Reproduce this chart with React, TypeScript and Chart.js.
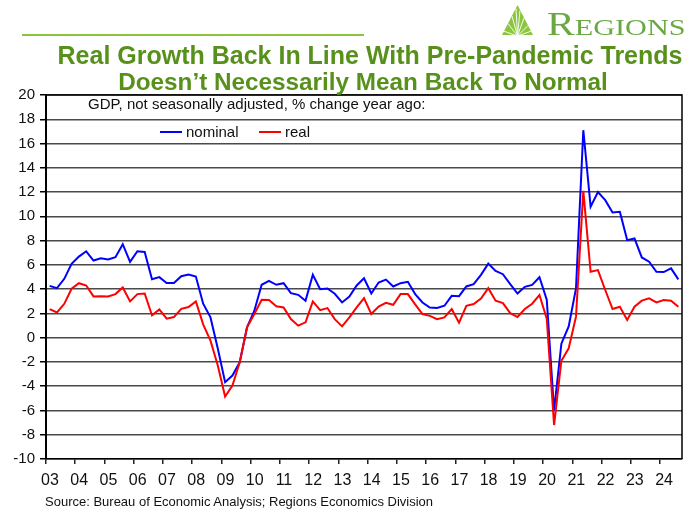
import React, { useEffect, useRef } from "react";
import { Chart, registerables } from "chart.js";

Chart.register(...registerables);

// ---- Data ----
const quarters: string[] = [];
for (let y = 2003; y <= 2024; y++) {
  for (let q = 1; q <= 4; q++) {
    if (y === 2024 && q === 4) break;
    quarters.push(`${y}Q${q}`);
  }
}

const nominal = [
  4.27, 4.08, 4.85, 6.08,
  6.68, 7.12, 6.36, 6.55,
  6.44, 6.63, 7.7, 6.25,
  7.12, 7.07, 4.82, 4.99,
  4.5, 4.5, 5.07, 5.2,
  5.04, 2.8, 1.67, -0.9,
  -3.67, -3.12, -2.03, 0.85,
  2.22, 4.36, 4.68, 4.36,
  4.49, 3.67, 3.53, 3.04,
  5.18, 4.0, 4.05, 3.62,
  2.9, 3.38, 4.3, 4.9,
  3.64, 4.55, 4.79, 4.22,
  4.49, 4.6, 3.59, 2.9,
  2.49, 2.44, 2.63, 3.45,
  3.42, 4.22, 4.41, 5.18,
  6.1, 5.5, 5.23, 4.41,
  3.64, 4.19, 4.35, 4.98,
  3.13, -6.0, -0.5, 0.92,
  4.06, 17.1, 10.8, 12.0,
  11.33, 10.32, 10.37, 8.04,
  8.18, 6.61, 6.26, 5.43,
  5.41, 5.71, 4.8,
];

const real = [
  2.36, 2.08, 2.79, 4.03,
  4.49, 4.3, 3.4, 3.42,
  3.4, 3.59, 4.14, 2.99,
  3.59, 3.64, 1.84, 2.33,
  1.56, 1.7, 2.38, 2.52,
  2.99, 1.1, -0.25, -2.3,
  -4.85, -3.95, -2.03, 0.85,
  1.95, 3.12, 3.1, 2.58,
  2.49, 1.53, 0.99, 1.26,
  2.99, 2.27, 2.44, 1.53,
  0.93, 1.67, 2.49, 3.26,
  1.95, 2.57, 2.87, 2.71,
  3.59, 3.59, 2.74, 1.95,
  1.8, 1.53, 1.67, 2.36,
  1.23, 2.63, 2.77, 3.22,
  4.08, 3.04, 2.85, 2.02,
  1.7, 2.36, 2.8, 3.51,
  1.56, -7.2, -1.9, -0.88,
  1.73, 12.1, 5.43, 5.57,
  3.93, 2.36, 2.55, 1.46,
  2.55, 3.05, 3.24, 2.91,
  3.1, 3.05, 2.55,
];

const yearTicks: number[] = [];
for (let y = 2003; y <= 2024; y++) yearTicks.push(y);

const seriesNames = ["nominal", "real"];
const seriesColors = ["#0000ff", "#ff0000"];

const titleLines = [
  "Real Growth Back In Line With Pre-Pandemic Trends",
  "Doesn\u2019t Necessarily Mean Back To Normal",
];
const subtitle = "GDP, not seasonally adjusted, % change year ago:";
const sourceText = "Source: Bureau of Economic Analysis; Regions Economics Division";

function quarterToX(label: string): number {
  const y = parseInt(label.slice(0, 4), 10);
  const q = parseInt(label.slice(5), 10);
  return y + (q - 0.5) / 4;
}

const FONT = "'Liberation Sans', Arial, Helvetica, sans-serif";

const borderPlugin = {
  id: "plotBorder",
  afterDraw(chart: any) {
    const { ctx, chartArea } = chart;
    ctx.save();
    ctx.strokeStyle = "#000";
    ctx.lineWidth = 1.5;
    ctx.beginPath();
    ctx.moveTo(chartArea.left, chartArea.top);
    ctx.lineTo(chartArea.right, chartArea.top);
    ctx.lineTo(chartArea.right, chartArea.bottom);
    ctx.stroke();
    ctx.restore();
  },
};

export default function App() {
  const canvasRef = useRef<HTMLCanvasElement | null>(null);

  useEffect(() => {
    document.body.style.margin = "0";
    const canvas = canvasRef.current;
    if (!canvas) return;
    const datasets = [nominal, real].map((vals, si) => ({
      label: seriesNames[si],
      data: vals.map((v, i) => ({ x: quarterToX(quarters[i]), y: v })),
      borderColor: seriesColors[si],
      backgroundColor: seriesColors[si],
      borderWidth: 2,
      pointRadius: 0,
      tension: 0,
      order: si === 0 ? 2 : 1,
    }));
    const chart = new Chart(canvas, {
      type: "line",
      data: { datasets },
      plugins: [borderPlugin],
      options: {
        responsive: false,
        animation: false,
        layout: { padding: { top: 95, right: 13, left: 0, bottom: 0 } },
        plugins: {
          legend: { display: false },
          tooltip: { enabled: false },
          title: { display: false },
        },
        scales: {
          x: {
            type: "linear",
            min: 2003,
            max: 2024.75,
            afterBuildTicks: (scale: any) => {
              scale.ticks = yearTicks.map((v) => ({ value: v }));
            },
            afterFit: (scale: any) => {
              scale.height = 51;
            },
            grid: {
              drawOnChartArea: false,
              drawTicks: true,
              tickLength: 5,
              color: "#222",
              lineWidth: 1.5,
            },
            border: { color: "#000", width: 1.5 },
            ticks: {
              autoSkip: false,
              maxRotation: 0,
              padding: 7,
              labelOffset: 4,
              color: "#111",
              font: { family: FONT, size: 16 },
              callback: (v: any) => String(v).slice(2),
            },
          },
          y: {
            min: -10,
            max: 20,
            afterFit: (scale: any) => {
              scale.width = 46;
            },
            grid: {
              color: "#4a4a4a",
              lineWidth: 1.5,
              tickLength: 6,
              tickColor: "#000",
            },
            border: { color: "#000", width: 2 },
            ticks: {
              stepSize: 2,
              padding: 5,
              color: "#111",
              font: { family: FONT, size: 15 },
            },
          },
        },
      },
    });
    return () => chart.destroy();
  }, []);

  const green = "#57911b";

  return (
    <div style={{ position: "absolute", left: 0, top: 0, width: 695, height: 510, background: "#fff", overflow: "hidden", fontFamily: FONT }}>
      <canvas ref={canvasRef} width={695} height={510} style={{ position: "absolute", left: 0, top: 0, display: "block" }} />
      {/* green rule */}
      <div style={{ position: "absolute", left: 22, top: 34, width: 342, height: 2, background: "#8cc63f" }} />
      {/* logo */}
      <svg style={{ position: "absolute", left: 500, top: 3 }} width={36} height={34} viewBox="0 0 36 34">
        <polygon points="2,32 17.5,2 33,32" fill="#8cc63f" />
        {[4, 8, 12, 16, 20, 24, 28, 31].map((px, k) => (
          <line key={k} x1={17.5} y1={33} x2={px} y2={k < 4 ? 32 - (px - 2) * 1.9 : 32 - (33 - px) * 1.9} stroke="#fff" strokeWidth={0.9} />
        ))}
      </svg>
      <div style={{ position: "absolute", left: 547, top: 6, fontFamily: "'Liberation Serif', 'Times New Roman', serif", color: "#6aa842", fontSize: 33, lineHeight: "36px", whiteSpace: "nowrap", transform: "scaleX(1.26)", transformOrigin: "left top" }}>
        R<span style={{ fontSize: 24 }}>EGIONS</span>
      </div>
      {/* titles */}
      <div style={{ position: "absolute", left: 370, top: 41, transform: "translateX(-50%)", whiteSpace: "nowrap", color: green, fontWeight: "bold", fontSize: 25, lineHeight: "28px" }}>
        {titleLines[0]}
      </div>
      <div style={{ position: "absolute", left: 363, top: 68, transform: "translateX(-50%)", whiteSpace: "nowrap", color: green, fontWeight: "bold", fontSize: 24.3, lineHeight: "28px" }}>
        {titleLines[1]}
      </div>
      {/* subtitle inside plot */}
      <div style={{ position: "absolute", left: 88, top: 95, whiteSpace: "nowrap", color: "#111", fontSize: 15, lineHeight: "18px" }}>
        {subtitle}
      </div>
      {/* legend */}
      {seriesNames.map((name, i) => (
        <div key={name} style={{ position: "absolute", left: i === 0 ? 160 : 259, top: 123, whiteSpace: "nowrap", color: "#111", fontSize: 15, lineHeight: "18px", display: "flex", alignItems: "center" }}>
          <span style={{ display: "inline-block", width: 22, height: 2, background: seriesColors[i], marginRight: 4 }} />
          {name}
        </div>
      ))}
      {/* source */}
      <div style={{ position: "absolute", left: 45, top: 494, whiteSpace: "nowrap", color: "#111", fontSize: 13, lineHeight: "16px" }}>
        {sourceText}
      </div>
    </div>
  );
}
